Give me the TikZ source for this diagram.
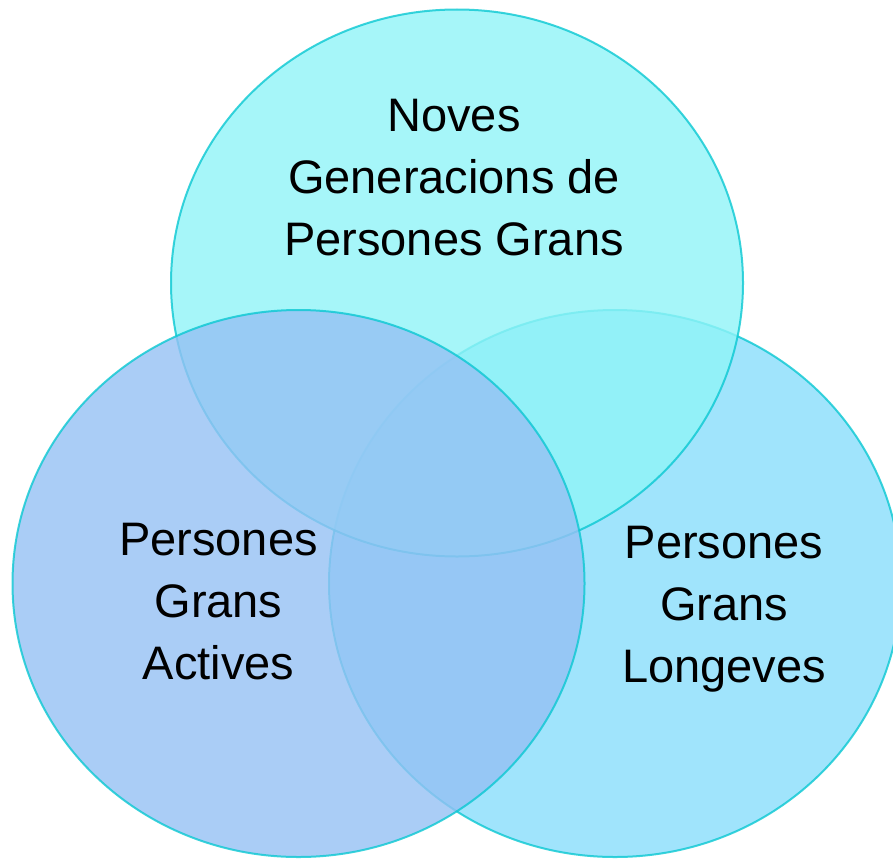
\documentclass[tikz,border=0pt]{standalone}
\usepackage{fontspec}
\setmainfont{Liberation Sans}
\usepackage{xcolor}
\usepackage{tikz}
\usetikzlibrary{shapes.geometric}
\definecolor{vora}{HTML}{0BC8D2}
\definecolor{cian}{HTML}{90F4F8}
\definecolor{blau}{HTML}{95C1F4}
\definecolor{celeste}{HTML}{88DDFB}
\tikzset{
  grup/.style={ellipse,draw=vora,line width=2pt,inner sep=0pt,opacity=0.8,
    minimum width=572pt,minimum height=547pt},
  etiqueta/.style={align=center,text=black,
    font=\fontsize{47}{62}\selectfont}
}

\begin{document}
\begin{tikzpicture}[x=1pt,y=-1pt]
      \useasboundingbox (0,0) rectangle (893,859);
      \clip (0,0) rectangle (893,859);
      \node[grup,fill=celeste] (longeves) at (615,583.5) {};
      \node[grup,fill=cian] (noves) at (457,283) {};
      \node[grup,fill=blau] (actives) at (298.5,583.5) {};
      \node[etiqueta] (t0) at (454,177.5) {Noves\\Generacions de\\Persones Grans};
      \node[etiqueta] (t1) at (218.5,602) {Persones\\Grans\\Actives};
      \node[etiqueta] (t2) at (724,609.5) {Persones\\Grans\\Longeves};
    \end{tikzpicture}
\end{document}
